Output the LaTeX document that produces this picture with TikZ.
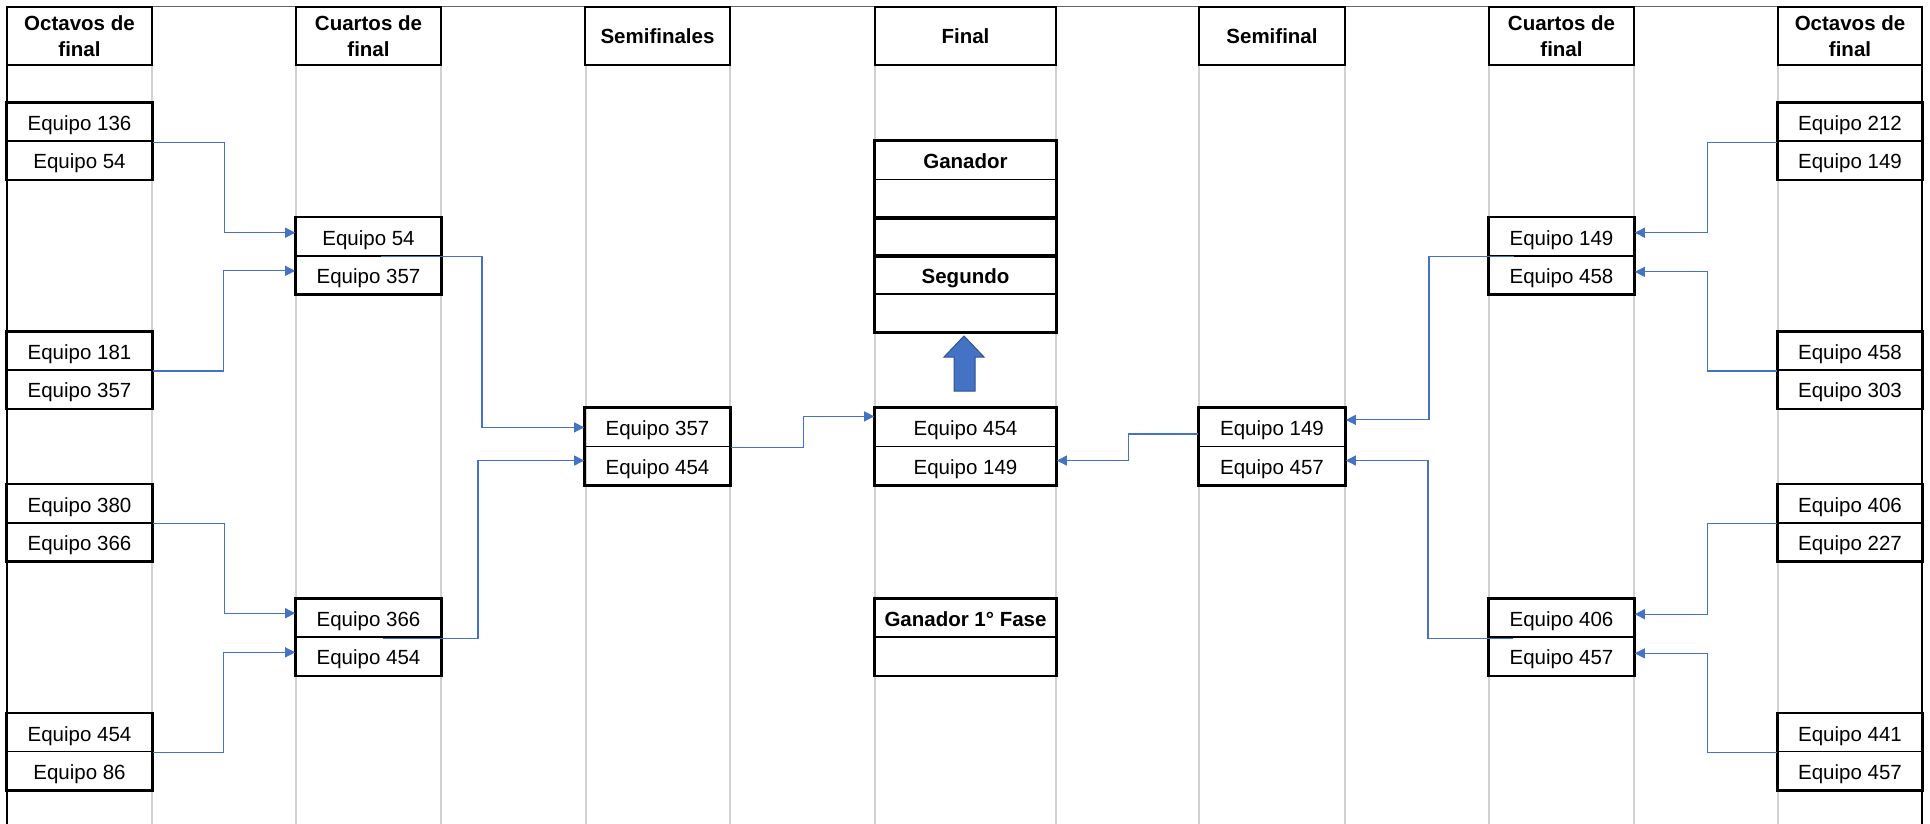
\documentclass[tikz,border=0pt]{standalone}
\usepackage{fontspec}
\setmainfont{Liberation Sans}
\usetikzlibrary{arrows.meta}
\definecolor{linkblue}{RGB}{68,114,196}
\definecolor{linkdark}{RGB}{47,82,143}

\begin{document}
\begin{tikzpicture}[x=1pt, y=-1pt, node distance=38.15pt, font=\fontsize{20.5}{24}\selectfont,
	team/.style = {draw, line width=1.6pt, minimum width=145pt, minimum height=38.15pt, inner sep=0pt, text height=17pt, text depth=0pt},
	wide/.style = {team, minimum width=181pt},
	bold/.style = {font=\fontsize{20.5}{24}\selectfont\bfseries},
	head/.style = {draw, line width=2.4pt, minimum width=145pt, minimum height=58pt, inner sep=0pt, align=center, font=\fontsize{20.5}{25.5}\selectfont\bfseries},
	pair/.style = {line width=2.4pt},
	grid/.style = {draw=black!18, line width=1.5pt},
	link/.style = {draw=linkblue, line width=1.1pt, -{Triangle[length=10pt,width=10pt]}}]
	\useasboundingbox (0,0) rectangle (1930,824);
	\draw[grid] (152,65) -- (152,824) (296,65) -- (296,824) (441,65) -- (441,824) (586,65) -- (586,824)
		(730,65) -- (730,824) (875,65) -- (875,824) (1056,65) -- (1056,824) (1199,65) -- (1199,824)
		(1345,65) -- (1345,824) (1489,65) -- (1489,824) (1634,65) -- (1634,824) (1778,65) -- (1778,824);
	\draw[black!60, line width=1pt] (7,7) -- (1922,7);
	\draw[line width=2.4pt] (7,7) -- (7,824);
	\draw[line width=2.4pt] (1922,7) -- (1922,824);
	\node[head] (h1) at (79.5,36) {Octavos de\\final};
	\node[head] (h2) at (368.5,36) {Cuartos de\\final};
	\node[head] (h3) at (657.5,36) {Semifinales};
	\node[head, minimum width=181pt] (h4) at (965.5,36) {Final};
	\node[head, minimum width=146pt] (h5) at (1272,36) {Semifinal};
	\node[head] (h6) at (1561.5,36) {Cuartos de\\final};
	\node[head, minimum width=144pt] (h7) at (1850,36) {Octavos de\\final};
	\node[team] (o1) at (79.5,122.2) {Equipo 136};
	\node[team] (o2) [below of = o1] {Equipo 54};
	\node[team] (o3) at (79.5,351.1) {Equipo 181};
	\node[team] (o4) [below of = o3] {Equipo 357};
	\node[team] (o5) at (79.5,503.7) {Equipo 380};
	\node[team] (o6) [below of = o5] {Equipo 366};
	\node[team] (o7) at (79.5,732.6) {Equipo 454};
	\node[team] (o8) [below of = o7] {Equipo 86};
	\node[team] (c1) at (368.5,236.7) {Equipo 54};
	\node[team] (c2) [below of = c1] {Equipo 357};
	\node[team] (c3) at (368.5,618.2) {Equipo 366};
	\node[team] (c4) [below of = c3] {Equipo 454};
	\node[team] (s1) at (657.5,427.4) {Equipo 357};
	\node[team] (s2) [below of = s1] {Equipo 454};
	\node[wide, bold] (g1) at (965.5,160.4) {Ganador};
	\node[wide] (g2) [below of = g1] {};
	\node[wide] (g3) [below of = g2] {};
	\node[wide, bold] (g4) [below of = g3] {Segundo};
	\node[wide] (g5) [below of = g4] {};
	\node[wide] (f1) at (965.5,427.4) {Equipo 454};
	\node[wide] (f2) [below of = f1] {Equipo 149};
	\node[wide, bold] (w1) at (965.5,618.2) {Ganador 1° Fase};
	\node[wide] (w2) [below of = w1] {};
	\node[team, minimum width=146pt] (t1) at (1272,427.4) {Equipo 149};
	\node[team, minimum width=146pt] (t2) [below of = t1] {Equipo 457};
	\node[team] (d1) at (1561.5,236.7) {Equipo 149};
	\node[team] (d2) [below of = d1] {Equipo 458};
	\node[team] (d3) at (1561.5,618.2) {Equipo 406};
	\node[team] (d4) [below of = d3] {Equipo 457};
	\node[team, minimum width=144pt] (p1) at (1850,122.2) {Equipo 212};
	\node[team, minimum width=144pt] (p2) [below of = p1] {Equipo 149};
	\node[team, minimum width=144pt] (p3) at (1850,351.1) {Equipo 458};
	\node[team, minimum width=144pt] (p4) [below of = p3] {Equipo 303};
	\node[team, minimum width=144pt] (p5) at (1850,503.7) {Equipo 406};
	\node[team, minimum width=144pt] (p6) [below of = p5] {Equipo 227};
	\node[team, minimum width=144pt] (p7) at (1850,732.6) {Equipo 441};
	\node[team, minimum width=144pt] (p8) [below of = p7] {Equipo 457};
	\draw[pair] (o1.north west) rectangle (o2.south east);
	\draw[pair] (o3.north west) rectangle (o4.south east);
	\draw[pair] (o5.north west) rectangle (o6.south east);
	\draw[pair] (o7.north west) rectangle (o8.south east);
	\draw[pair] (c1.north west) rectangle (c2.south east);
	\draw[pair] (c3.north west) rectangle (c4.south east);
	\draw[pair] (s1.north west) rectangle (s2.south east);
	\draw[pair] (g1.north west) rectangle (g2.south east);
	\draw[pair] (g3.north west) rectangle (g3.south east);
	\draw[pair] (g4.north west) rectangle (g5.south east);
	\draw[pair] (f1.north west) rectangle (f2.south east);
	\draw[pair] (w1.north west) rectangle (w2.south east);
	\draw[pair] (t1.north west) rectangle (t2.south east);
	\draw[pair] (d1.north west) rectangle (d2.south east);
	\draw[pair] (d3.north west) rectangle (d4.south east);
	\draw[pair] (p1.north west) rectangle (p2.south east);
	\draw[pair] (p3.north west) rectangle (p4.south east);
	\draw[pair] (p5.north west) rectangle (p6.south east);
	\draw[pair] (p7.north west) rectangle (p8.south east);
	\draw[link] (o1.south east) -- ++(72,0) |- ([yshift=4pt]c1.west);
	\draw[link] (o3.south east) -- ++(71,0) |- ([yshift=4pt]c2.west);
	\draw[link] (o5.south east) -- ++(72,0) |- ([yshift=5pt]c3.west);
	\draw[link] (o7.south east) -- ++(71,0) |- ([yshift=4pt]c4.west);
	\draw[link] ([xshift=12pt]c1.south) -- ++(101.5,0) |- (s1.west);
	\draw[link] ([xshift=14pt]c3.south) -- ++(95.5,0) |- ([yshift=5pt]s2.west);
	\draw[link] (s1.south east) -- ++(73,0) |- ([yshift=11pt]f1.west);
	\draw[link] ([yshift=-6.6pt]t1.west) -- ++(-70,0) |- ([yshift=5pt]f2.east);
	\draw[link] ([xshift=-47.5pt]d1.south) -- ++(-85,0) |- ([yshift=7.5pt]t1.east);
	\draw[link] ([xshift=-48.5pt]d3.south) -- ++(-85,0) |- ([yshift=5pt]t2.east);
	\draw[link] (p1.south west) -- ++(-70,0) |- ([yshift=4pt]d1.east);
	\draw[link] (p3.south west) -- ++(-70,0) |- ([yshift=3pt]d2.east);
	\draw[link] (p5.south west) -- ++(-70,0) |- ([yshift=4pt]d3.east);
	\draw[link] (p7.south west) -- ++(-70,0) |- ([yshift=3pt]d4.east);
	\draw[fill=linkblue, draw=linkdark, line width=1pt] (954,391) -- (954,357) -- (944,357) -- (964,336) -- (984,357) -- (975,357) -- (975,391) -- cycle;
\end{tikzpicture}
\end{document}
